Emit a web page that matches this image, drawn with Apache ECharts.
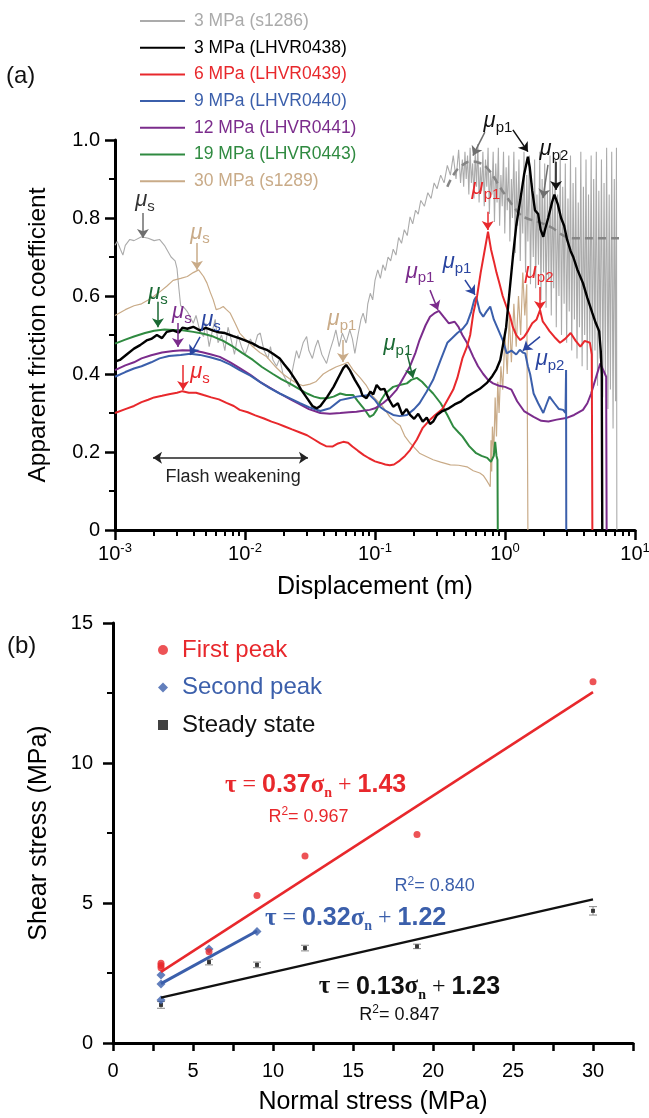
<!DOCTYPE html>
<html>
<head>
<meta charset="utf-8">
<script src="https://cdn.jsdelivr.net/npm/echarts@6/dist/echarts.min.js"></script>
<style>
html, body { margin: 0; padding: 0; background: #fff; }
#chart { width: 649px; height: 1118px; }
</style>
</head>
<body>
<div id="chart"></div>
<script>
// ---------- (a) apparent friction vs displacement: [displacement (m), friction] ----------
var s1286 = [[0.001,0.73],[0.00104,0.74],[0.0011,0.72],[0.00115,0.705],[0.0012,0.73],[0.0013,0.745],[0.0014,0.742],[0.0016,0.752],[0.0018,0.748],[0.002,0.742],[0.0022,0.745],[0.0024,0.73],[0.0027,0.70],[0.0029,0.69],[0.003,0.67],[0.0031,0.62],[0.0032,0.575],[0.0034,0.57],[0.0036,0.56],[0.0038,0.545],[0.004,0.53],[0.0042,0.55],[0.0045,0.51],[0.0048,0.496],[0.005,0.53],[0.0053,0.47],[0.0056,0.51],[0.0059,0.54],[0.0062,0.48],[0.0066,0.50],[0.007,0.46],[0.0074,0.52],[0.0078,0.49],[0.0083,0.45],[0.0088,0.5],[0.0094,0.47],[0.0100,0.45],[0.0103,0.46],[0.011,0.49],[0.0118,0.47],[0.0125,0.50],[0.0131,0.505],[0.014,0.46],[0.015,0.44],[0.0157,0.47],[0.0164,0.436],[0.0175,0.42],[0.0185,0.44],[0.0196,0.40],[0.021,0.38],[0.022,0.367],[0.0235,0.42],[0.0249,0.46],[0.026,0.44],[0.028,0.48],[0.0298,0.496],[0.031,0.46],[0.033,0.44],[0.0348,0.47],[0.0364,0.487],[0.039,0.45],[0.0424,0.427],[0.045,0.46],[0.048,0.49],[0.050,0.513],[0.053,0.47],[0.056,0.505],[0.060,0.48],[0.064,0.513],[0.067,0.49],[0.070,0.453],[0.074,0.50],[0.078,0.54],[0.081,0.556],[0.085,0.53],[0.088,0.58],[0.092,0.607],[0.096,0.59],[0.10,0.64],[0.105,0.667],[0.11,0.645],[0.115,0.68],[0.12,0.665],[0.126,0.70],[0.132,0.69],[0.138,0.72],[0.145,0.705],[0.152,0.75],[0.16,0.735],[0.168,0.77],[0.177,0.755],[0.186,0.803],[0.195,0.785],[0.205,0.82],[0.215,0.81],[0.225,0.845],[0.24,0.83],[0.255,0.865],[0.27,0.85],[0.285,0.89],[0.30,0.875],[0.32,0.91],[0.34,0.89],[0.36,0.935],[0.38,0.91],[0.40,0.96],[0.42,0.9],[0.44,0.975],[0.455,0.89],
  [0.470,0.95],[0.481,0.88],[0.492,0.97],[0.503,0.90],[0.515,0.96],[0.527,0.86],[0.539,0.98],[0.551,0.89],[0.564,0.94],[0.577,0.85],[0.590,0.97],[0.604,0.88],[0.618,0.99],[0.632,0.84],[0.646,0.93],[0.661,0.87],[0.676,0.97],[0.692,0.83],[0.708,0.95],[0.724,0.88],[0.741,0.98],[0.758,0.81],[0.775,0.92],[0.793,0.86],[0.811,0.97],[0.830,0.79],[0.849,0.94],[0.869,0.84],[0.889,0.98],[0.909,0.78],[0.930,0.91],[0.952,0.83],[0.974,0.97],[0.996,0.76],[1.02,0.93],[1.04,0.82],[1.07,0.96],[1.09,0.74],[1.12,0.90],[1.14,0.80],[1.17,0.97],[1.20,0.71],[1.22,0.92],[1.25,0.78],[1.28,0.95],[1.31,0.69],[1.34,0.88],[1.37,0.76],[1.40,0.97],[1.44,0.66],[1.47,0.91],[1.50,0.74],[1.54,0.96],[1.57,0.63],[1.61,0.89],[1.65,0.70],[1.69,0.95],[1.72,0.62],[1.76,0.86],[1.81,0.68],[1.85,0.97],[1.89,0.59],[1.93,0.90],[1.98,0.66],[2.02,0.94],[2.07,0.57],[2.12,0.87],[2.17,0.64],[2.22,0.96],[2.27,0.55],[2.32,0.89],[2.37,0.62],[2.43,0.95],[2.48,0.52],[2.54,0.86],[2.60,0.60],[2.66,0.97],[2.72,0.50],[2.78,0.88],[2.85,0.58],[2.91,0.94],[2.98,0.48],[3.05,0.85],[3.12,0.56],[3.19,0.96],[3.26,0.46],[3.34,0.89],[3.42,0.54],[3.50,0.93],[3.58,0.44],[3.66,0.84],[3.74,0.52],[3.83,0.97],[3.92,0.42],[4.01,0.88],[4.10,0.50],[4.20,0.95],[4.29,0.41],[4.39,0.86],[4.49,0.48],[4.60,0.96],[4.70,0.39],[4.81,0.90],[4.92,0.46],[5.04,0.97],[5.15,0.37],[5.27,0.87],[5.39,0.44],[5.52,0.95],[5.65,0.34],[5.78,0.89],[5.91,0.40],[6.05,0.98],[6.19,0.31],[6.33,0.86],[6.47,0.36],[6.62,0.97],[6.78,0.26],[6.93,0.90],[7.09,0.33],[7.20,0.98],[7.25,0.0]];

var s1286Trend = [[0.36,0.88],[0.40,0.91],[0.45,0.93],[0.55,0.945],[0.65,0.94],[0.72,0.93],[0.82,0.905],[0.91,0.88],[1.05,0.85],[1.16,0.83],[1.3,0.81],[1.45,0.80],[1.8,0.79],[2.3,0.775],[2.6,0.762],[2.95,0.752],[3.5,0.748],[5.0,0.748],[7.7,0.748]];

var lhvr0438 = [[0.00100,0.432],[0.00109,0.436],[0.00125,0.452],[0.00140,0.465],[0.00156,0.474],[0.00175,0.486],[0.0019,0.49],[0.0021,0.50],[0.0023,0.492],[0.0025,0.508],[0.0028,0.512],[0.0031,0.506],[0.0033,0.519],[0.0036,0.516],[0.0040,0.521],[0.0045,0.512],[0.0050,0.518],[0.0057,0.511],[0.0063,0.507],[0.0070,0.505],[0.0081,0.497],[0.0090,0.492],[0.0100,0.486],[0.0115,0.478],[0.0130,0.468],[0.0147,0.462],[0.0164,0.452],[0.0185,0.44],[0.020,0.425],[0.022,0.408],[0.025,0.38],[0.027,0.36],[0.030,0.338],[0.033,0.318],[0.0357,0.312],[0.038,0.318],[0.043,0.342],[0.048,0.367],[0.053,0.395],[0.057,0.415],[0.060,0.423],[0.064,0.41],[0.070,0.385],[0.077,0.362],[0.080,0.345],[0.086,0.338],[0.092,0.355],[0.097,0.348],[0.103,0.372],[0.110,0.36],[0.118,0.362],[0.128,0.335],[0.138,0.316],[0.150,0.325],[0.162,0.296],[0.175,0.31],[0.186,0.295],[0.20,0.285],[0.215,0.298],[0.233,0.278],[0.25,0.288],[0.265,0.272],[0.28,0.278],[0.30,0.295],[0.33,0.305],[0.37,0.312],[0.41,0.322],[0.46,0.33],[0.51,0.342],[0.57,0.352],[0.64,0.362],[0.73,0.378],[0.80,0.395],[0.86,0.412],[0.92,0.436],[0.96,0.47],[1.02,0.52],[1.09,0.62],[1.15,0.70],[1.22,0.78],[1.31,0.846],[1.40,0.91],[1.50,0.957],[1.55,0.93],[1.62,0.87],[1.70,0.82],[1.80,0.81],[1.88,0.77],[1.97,0.752],[2.05,0.775],[2.15,0.80],[2.30,0.84],[2.40,0.86],[2.55,0.835],[2.70,0.80],[2.85,0.78],[3.0,0.745],[3.2,0.715],[3.35,0.70],[3.6,0.668],[3.98,0.633],[4.3,0.595],[4.7,0.556],[5.0,0.53],[5.3,0.51],[5.45,0.46],[5.55,0.40],[5.6,0.0]];

var lhvr0439 = [[0.001,0.300],[0.0012,0.31],[0.0014,0.318],[0.0016,0.328],[0.0018,0.334],[0.002,0.34],[0.0023,0.344],[0.0026,0.348],[0.003,0.352],[0.0033,0.356],[0.0037,0.352],[0.0042,0.352],[0.0048,0.346],[0.0055,0.34],[0.0063,0.335],[0.0072,0.326],[0.0082,0.318],[0.0091,0.308],[0.0105,0.302],[0.012,0.294],[0.014,0.286],[0.016,0.278],[0.018,0.272],[0.020,0.266],[0.023,0.258],[0.0265,0.25],[0.030,0.243],[0.034,0.232],[0.038,0.222],[0.042,0.215],[0.047,0.214],[0.052,0.222],[0.057,0.226],[0.062,0.224],[0.067,0.214],[0.074,0.203],[0.082,0.192],[0.090,0.184],[0.10,0.176],[0.11,0.172],[0.12,0.168],[0.13,0.166],[0.14,0.168],[0.155,0.178],[0.17,0.19],[0.186,0.205],[0.21,0.232],[0.233,0.262],[0.26,0.28],[0.29,0.295],[0.33,0.31],[0.37,0.34],[0.40,0.36],[0.43,0.39],[0.47,0.44],[0.51,0.47],[0.54,0.50],[0.57,0.555],[0.61,0.60],[0.65,0.66],[0.70,0.72],[0.74,0.765],[0.78,0.72],[0.82,0.69],[0.86,0.66],[0.91,0.63],[0.96,0.60],[1.02,0.575],[1.09,0.55],[1.15,0.52],[1.22,0.50],[1.31,0.487],[1.4,0.495],[1.5,0.51],[1.62,0.53],[1.75,0.54],[1.86,0.564],[1.95,0.535],[2.05,0.525],[2.2,0.51],[2.4,0.495],[2.65,0.48],[2.9,0.49],[3.2,0.505],[3.5,0.485],[3.8,0.47],[4.1,0.485],[4.5,0.48],[4.65,0.45],[4.7,0.0]];

var lhvr0440 = [[0.001,0.393],[0.0012,0.405],[0.0014,0.414],[0.0016,0.42],[0.0019,0.43],[0.0022,0.44],[0.0026,0.446],[0.0032,0.449],[0.0038,0.452],[0.0045,0.449],[0.0054,0.443],[0.0064,0.436],[0.0077,0.424],[0.0091,0.41],[0.011,0.396],[0.013,0.38],[0.0155,0.364],[0.0185,0.35],[0.022,0.338],[0.0265,0.325],[0.031,0.315],[0.038,0.305],[0.045,0.312],[0.054,0.333],[0.063,0.338],[0.072,0.342],[0.081,0.344],[0.091,0.346],[0.10,0.333],[0.109,0.316],[0.12,0.306],[0.138,0.295],[0.155,0.292],[0.176,0.295],[0.20,0.31],[0.22,0.325],[0.25,0.355],[0.28,0.385],[0.32,0.436],[0.36,0.48],[0.40,0.495],[0.43,0.505],[0.47,0.515],[0.51,0.53],[0.55,0.56],[0.58,0.59],[0.60,0.598],[0.64,0.56],[0.68,0.547],[0.72,0.56],[0.77,0.573],[0.82,0.54],[0.87,0.52],[0.96,0.487],[1.03,0.453],[1.12,0.46],[1.22,0.45],[1.30,0.462],[1.37,0.455],[1.43,0.453],[1.5,0.42],[1.56,0.40],[1.66,0.35],[1.8,0.325],[1.97,0.30],[2.1,0.325],[2.2,0.342],[2.4,0.325],[2.6,0.31],[2.8,0.308],[2.92,0.30],[2.95,0.41],[2.96,0.0]];

var lhvr0441 = [[0.001,0.41],[0.0012,0.422],[0.0014,0.43],[0.0016,0.44],[0.0019,0.448],[0.0023,0.455],[0.0028,0.459],[0.0033,0.461],[0.004,0.46],[0.0047,0.456],[0.0055,0.45],[0.0064,0.444],[0.0077,0.43],[0.0091,0.415],[0.011,0.398],[0.013,0.38],[0.0155,0.365],[0.0185,0.35],[0.022,0.336],[0.0265,0.322],[0.031,0.31],[0.038,0.30],[0.045,0.298],[0.054,0.30],[0.063,0.302],[0.072,0.303],[0.081,0.306],[0.091,0.308],[0.10,0.312],[0.115,0.325],[0.13,0.34],[0.147,0.36],[0.165,0.39],[0.186,0.42],[0.205,0.455],[0.22,0.487],[0.245,0.525],[0.265,0.547],[0.29,0.557],[0.31,0.562],[0.34,0.545],[0.37,0.53],[0.41,0.534],[0.44,0.52],[0.47,0.50],[0.51,0.48],[0.57,0.444],[0.62,0.42],[0.68,0.40],[0.74,0.385],[0.81,0.376],[0.9,0.37],[1.0,0.367],[1.12,0.36],[1.24,0.33],[1.4,0.305],[1.66,0.29],[1.9,0.28],[2.16,0.278],[2.5,0.283],[2.95,0.287],[3.4,0.295],[3.98,0.308],[4.3,0.325],[4.6,0.35],[5.0,0.39],[5.4,0.427],[5.7,0.41],[6.0,0.393],[6.05,0.0]];

var lhvr0443 = [[0.001,0.478],[0.0012,0.488],[0.0014,0.496],[0.0017,0.505],[0.002,0.511],[0.0024,0.514],[0.0028,0.513],[0.0033,0.512],[0.004,0.508],[0.0048,0.503],[0.0057,0.496],[0.0068,0.485],[0.0081,0.47],[0.0095,0.454],[0.0115,0.436],[0.0135,0.418],[0.0164,0.40],[0.019,0.387],[0.022,0.376],[0.026,0.362],[0.030,0.35],[0.034,0.342],[0.038,0.338],[0.043,0.338],[0.048,0.342],[0.054,0.35],[0.060,0.346],[0.068,0.346],[0.074,0.33],[0.080,0.316],[0.086,0.302],[0.091,0.29],[0.097,0.295],[0.103,0.308],[0.11,0.33],[0.12,0.35],[0.138,0.367],[0.155,0.372],[0.176,0.376],[0.19,0.385],[0.21,0.39],[0.23,0.38],[0.25,0.367],[0.28,0.35],[0.32,0.325],[0.36,0.295],[0.40,0.265],[0.44,0.25],[0.47,0.24],[0.53,0.215],[0.60,0.197],[0.66,0.19],[0.73,0.185],[0.78,0.175],[0.82,0.19],[0.84,0.226],[0.86,0.19],[0.875,0.18],[0.88,0.0]];

var s1289 = [[0.001,0.55],[0.0012,0.565],[0.0014,0.575],[0.0016,0.58],[0.0018,0.59],[0.002,0.60],[0.0022,0.61],[0.0025,0.625],[0.0028,0.64],[0.0032,0.645],[0.0036,0.65],[0.004,0.66],[0.0044,0.667],[0.0048,0.65],[0.0051,0.633],[0.0054,0.61],[0.0057,0.59],[0.006,0.565],[0.0064,0.568],[0.0068,0.573],[0.0072,0.565],[0.0077,0.556],[0.0084,0.53],[0.0091,0.505],[0.010,0.49],[0.0115,0.47],[0.013,0.455],[0.0147,0.444],[0.017,0.42],[0.0196,0.40],[0.022,0.388],[0.025,0.376],[0.028,0.37],[0.0316,0.374],[0.035,0.38],[0.04,0.40],[0.045,0.41],[0.05,0.418],[0.057,0.425],[0.062,0.43],[0.068,0.41],[0.077,0.39],[0.086,0.37],[0.095,0.345],[0.103,0.333],[0.115,0.316],[0.13,0.29],[0.145,0.275],[0.156,0.268],[0.17,0.24],[0.186,0.223],[0.20,0.212],[0.22,0.197],[0.25,0.188],[0.28,0.18],[0.32,0.174],[0.38,0.167],[0.44,0.166],[0.51,0.162],[0.57,0.152],[0.64,0.146],[0.68,0.14],[0.72,0.128],[0.75,0.118],[0.77,0.111],[0.78,0.23],[0.79,0.15],[0.80,0.265],[0.82,0.2],[0.84,0.34],[0.86,0.24],[0.88,0.38],[0.90,0.3],[0.93,0.42],[0.96,0.36],[1.0,0.5],[1.04,0.4],[1.08,0.55],[1.12,0.43],[1.17,0.58],[1.22,0.47],[1.27,0.6],[1.32,0.5],[1.37,0.66],[1.42,0.55],[1.47,0.63],[1.5,0.0]];

var seriesNamesA = ['3 MPa (s1286)', '3 MPa (LHVR0438)', '6 MPa (LHVR0439)', '9 MPa (LHVR0440)', '12 MPa (LHVR0441)', '19 MPa (LHVR0443)', '30 MPa (s1289)'];
var minorTicksA = [0.002,0.003,0.004,0.005,0.006,0.007,0.008,0.009,0.02,0.03,0.04,0.05,0.06,0.07,0.08,0.09,0.2,0.3,0.4,0.5,0.6,0.7,0.8,0.9,2,3,4,5,6,7,8,9];

// ---------- (b) shear stress vs normal stress (MPa) ----------
var firstPeak = [[3,2.85],[3,2.77],[3,2.69],[6,3.26],[9,5.27],[12,6.68],[19,7.45],[30,12.9]];
var secondPeak = [[3,2.43],[3,2.11],[3,1.54],[6,3.36],[9,3.98]];
var steadyState = [[3,1.36],[6,2.89],[9,2.79],[12,3.39],[19,3.45],[30,4.72]];
var steadyErr = [0.12,0.1,0.1,0.1,0.08,0.15];
var firstFit = [[3,2.54],[30,12.53]];
var secondFit = [[3,2.12],[9,4.0]];
var steadyFit = [[3,1.62],[30,5.13]];
var xTicksB = [0,2.5,5,7.5,10,12.5,15,17.5,20,22.5,25,27.5,30,32.5];
var xLabelsB = [0,5,10,15,20,25,30];

var C = {
  gray: '#ababab', black: '#000000', red: '#e8282c', blue: '#3b5fab',
  purple: '#7b2c8c', green: '#2f8a40', tan: '#c9ab88', dgreen: '#1b6a34',
  dblue: '#2a45a0', dgray: '#6e6e6e'
};
var FONT = '"Liberation Sans", Arial, sans-serif';

// annotations of panel (a): [subscript, displacement, friction, colour]
var labelsA = [
  ['s', 0.0017, 0.846, '#333'], ['s', 0.0045, 0.762, C.tan], ['s', 0.00214, 0.608, C.dgreen],
  ['s', 0.00327, 0.559, C.purple], ['s', 0.00547, 0.538, C.dblue], ['s', 0.00451, 0.405, C.red],
  ['p1', 0.0557, 0.541, C.tan], ['p1', 0.150, 0.477, C.dgreen], ['p1', 0.222, 0.662, C.purple],
  ['p1', 0.428, 0.687, C.dblue], ['p1', 0.714, 0.877, C.red], ['p1', 0.883, 1.049, '#111'],
  ['p2', 2.38, 0.977, '#111'], ['p2', 1.83, 0.662, C.red], ['p2', 2.22, 0.438, C.dblue]
];
var arrowsA = [
  [0.00164, 0.813, 0.00164, 0.749, C.dgray], [0.00427, 0.736, 0.00427, 0.667, C.tan],
  [0.00214, 0.585, 0.00214, 0.52, C.dgreen], [0.00305, 0.531, 0.00305, 0.469, C.purple],
  [0.00451, 0.495, 0.00378, 0.449, C.dblue], [0.00334, 0.423, 0.00334, 0.359, C.red],
  [0.0567, 0.487, 0.0567, 0.431, C.tan], [0.176, 0.454, 0.196, 0.39, C.dgreen],
  [0.265, 0.615, 0.305, 0.564, C.purple], [0.492, 0.641, 0.588, 0.603, C.dblue],
  [0.736, 0.816, 0.736, 0.769, C.red], [1.15, 1.026, 1.50, 0.97, '#111'],
  [0.70, 1.02, 0.567, 0.96, C.dgray], [2.47, 0.944, 2.47, 0.872, '#111'],
  [2.14, 0.936, 1.96, 0.851, C.dgray], [1.86, 0.623, 1.86, 0.564, C.red],
  [1.86, 0.496, 1.37, 0.46, C.dblue]
];

var chart = echarts.init(document.getElementById('chart'), null, { renderer: 'canvas' });

function curve(name, data, color, width) {
  return {
    name: name, type: 'line', xAxisIndex: 0, yAxisIndex: 0, data: data,
    symbol: 'none', showSymbol: false, silent: true, clip: true,
    lineStyle: { color: color, width: width }, itemStyle: { color: color }
  };
}

var axisBlack = { onZero: false, lineStyle: { color: '#000', width: 3 } };
var muRich = {
  m: { fontSize: 22, fontStyle: 'italic', fontFamily: FONT, lineHeight: 28, verticalAlign: 'middle' },
  s: { fontSize: 15, fontFamily: FONT, lineHeight: 12, verticalAlign: 'bottom' }
};
var eqRich = {
  t: { fontFamily: '"Liberation Serif", serif', fontWeight: 'bold', fontSize: 25, lineHeight: 30 },
  e: { fontFamily: '"Liberation Serif", serif', fontSize: 24, lineHeight: 30 },
  n: { fontFamily: '"Liberation Sans Narrow", ' + FONT, fontWeight: 'bold', fontSize: 25, lineHeight: 30 },
  sub: { fontFamily: '"Liberation Serif", serif', fontWeight: 'bold', fontSize: 14, lineHeight: 10, verticalAlign: 'bottom' },
  r: { fontFamily: FONT, fontSize: 18, lineHeight: 22 },
  sup: { fontFamily: FONT, fontSize: 12, lineHeight: 12, verticalAlign: 'top' }
};
function eqLabel(coord, text, color) {
  return { coord: coord, label: { formatter: text, color: color } };
}

var option = {
  animation: false,
  backgroundColor: '#fff',
  textStyle: { fontFamily: FONT },
  grid: [
    { left: 115, right: 14, top: 140, bottom: 588, outerBoundsMode: 'none' },
    { left: 113, right: 16, top: 623, bottom: 75, outerBoundsMode: 'none' },
    { left: 115, right: 14, top: 62, bottom: 588, outerBoundsMode: 'none' }
  ],
  legend: [{
    orient: 'vertical', left: 135, top: 7, itemWidth: 45, itemHeight: 2, itemGap: 8.7,
    icon: 'rect', selectedMode: false,
    textStyle: { fontSize: 17.5, lineHeight: 18, padding: [0, 0, 0, 4] },
    data: seriesNamesA.map(function (n, i) {
      var cols = [C.gray, C.black, C.red, C.blue, C.purple, C.green, C.tan];
      return { name: n, textStyle: { color: cols[i] } };
    })
  }, {
    orient: 'vertical', left: 153, top: 633, itemWidth: 10, itemHeight: 10, itemGap: 13.5,
    selectedMode: false,
    textStyle: { fontSize: 24, lineHeight: 24, padding: [0, 0, 0, 9] },
    data: [
      { name: 'First peak', icon: 'circle', textStyle: { color: C.red } },
      { name: 'Second peak', icon: 'diamond', textStyle: { color: C.blue } },
      { name: 'Steady state', icon: 'rect', textStyle: { color: '#111' } }
    ]
  }],
  xAxis: [{
    type: 'log', logBase: 10, gridIndex: 0, min: 0.001, max: 10,
    axisLine: axisBlack,
    axisTick: { length: 10, lineStyle: { color: '#000', width: 2.5 } },
    splitLine: { show: false },
    axisLabel: {
      margin: 12, color: '#000',
      formatter: function (v) { return '{b|10}{e|' + Math.round(Math.log(v) / Math.LN10) + '}'; },
      rich: {
        b: { fontSize: 20, fontFamily: FONT, lineHeight: 24, verticalAlign: 'middle' },
        e: { fontSize: 13, fontFamily: FONT, lineHeight: 12, verticalAlign: 'top' }
      }
    },
    name: 'Displacement (m)', nameLocation: 'middle', nameGap: 45,
    nameTextStyle: { fontSize: 25, color: '#000' }
  }, {
    // minor ticks of the log axis, drawn on a linear axis in decades
    type: 'value', gridIndex: 0, min: -3, max: 1, position: 'bottom',
    axisLine: { show: false, onZero: false }, axisLabel: { show: false }, splitLine: { show: false },
    axisTick: { show: true, customValues: minorTicksA.map(function (v) { return Math.log(v) / Math.LN10; }),
      length: 6, lineStyle: { color: '#000', width: 2 } }
  }, {
    type: 'value', gridIndex: 1, min: 0, max: 32.5,
    axisLine: axisBlack,
    axisTick: { customValues: xTicksB, length: 8, lineStyle: { color: '#000', width: 2.5 } },
    axisLabel: { customValues: xLabelsB, margin: 18, fontSize: 20, color: '#000' },
    splitLine: { show: false },
    name: 'Normal stress (MPa)', nameLocation: 'middle', nameGap: 47,
    nameTextStyle: { fontSize: 25, color: '#000' }
  }, {
    type: 'log', logBase: 10, gridIndex: 2, min: 0.001, max: 10, show: false
  }],
  yAxis: [{
    type: 'value', gridIndex: 0, min: 0, max: 1, interval: 0.2,
    axisLine: { show: true, onZero: false, lineStyle: { color: '#000', width: 3 } },
    axisTick: { length: 10, lineStyle: { color: '#000', width: 2.5 } },
    minorTick: { show: true, splitNumber: 2, length: 6, lineStyle: { color: '#000', width: 2 } },
    splitLine: { show: false },
    axisLabel: { margin: 15, fontSize: 20, color: '#000',
      formatter: function (v) { return v === 0 ? '0' : v.toFixed(1); } },
    name: 'Apparent friction coefficient', nameLocation: 'middle', nameGap: 64,
    nameTextStyle: { fontSize: 24.5, color: '#000' }
  }, {
    type: 'value', gridIndex: 1, min: 0, max: 15, interval: 5,
    axisLine: { show: true, onZero: false, lineStyle: { color: '#000', width: 3 } },
    axisTick: { length: 10, lineStyle: { color: '#000', width: 2.5 } },
    minorTick: { show: true, splitNumber: 2, length: 6, lineStyle: { color: '#000', width: 2 } },
    splitLine: { show: false },
    axisLabel: { margin: 20, fontSize: 20, color: '#000' },
    name: 'Shear stress (MPa)', nameLocation: 'middle', nameGap: 61,
    nameTextStyle: { fontSize: 25, color: '#000' }
  }, {
    type: 'value', gridIndex: 2, min: 0, max: 1.2, show: false
  }],
  graphic: [
    { type: 'text', left: 6, top: 64, style: { text: '(a)', fontSize: 24, fill: '#111', fontFamily: FONT } },
    { type: 'text', left: 7, top: 634, style: { text: '(b)', fontSize: 24, fill: '#111', fontFamily: FONT } }
  ],
  series: [
    curve(seriesNamesA[0], s1286, C.gray, 1.1),
    {
      name: 'trend', type: 'line', xAxisIndex: 0, yAxisIndex: 0, data: s1286Trend, smooth: true,
      symbol: 'none', silent: true,
      lineStyle: { color: '#858585', width: 2.5, type: [8, 5] }
    },
    curve(seriesNamesA[6], s1289, C.tan, 1.2),
    curve(seriesNamesA[5], lhvr0443, C.green, 2),
    curve(seriesNamesA[4], lhvr0441, C.purple, 2),
    curve(seriesNamesA[3], lhvr0440, C.blue, 2),
    curve(seriesNamesA[2], lhvr0439, C.red, 2),
    curve(seriesNamesA[1], lhvr0438, C.black, 2.4),
    {
      name: 'notes', type: 'line', xAxisIndex: 3, yAxisIndex: 2, data: [], silent: true,
      markLine: {
        silent: true, symbol: ['none', 'arrow'], symbolSize: 9, animation: false,
        label: { show: false },
        data: arrowsA.map(function (a) {
          return [{ coord: [a[0], a[1]], lineStyle: { color: a[4], width: 1.5, type: 'solid' }, itemStyle: { color: a[4] } },
                  { coord: [a[2], a[3]] }];
        }).concat([[
          { coord: [0.00196, 0.185], symbol: 'arrow', lineStyle: { color: '#222', width: 1.5, type: 'solid' }, itemStyle: { color: '#222' } },
          { coord: [0.0305, 0.185], symbol: 'arrow' }
        ]])
      },
      markPoint: {
        silent: true, symbol: 'circle', symbolSize: 1, itemStyle: { color: 'rgba(0,0,0,0)' },
        label: { show: true, position: 'inside', rich: muRich },
        data: labelsA.map(function (l) {
          return { coord: [l[1], l[2]], label: { formatter: '{m|\u03bc}{s|' + l[0] + '}', color: l[3] } };
        }).concat([{ coord: [0.0081, 0.136], label: { formatter: 'Flash weakening', fontSize: 18, color: '#222' } }])
      }
    },
    // panel (b)
    {
      name: 'firstFit', type: 'line', xAxisIndex: 2, yAxisIndex: 1, data: firstFit, symbol: 'none', silent: true,
      lineStyle: { color: C.red, width: 2.5 },
      markPoint: {
        silent: true, symbol: 'circle', symbolSize: 1, itemStyle: { color: 'rgba(0,0,0,0)' },
        label: { show: true, position: 'inside', rich: eqRich },
        data: [
          eqLabel([12.66, 9.21], '{t|\u03c4}{e| = }{n|0.37}{t|\u03c3}{sub|n}{e| + }{n|1.43}', C.red),
          eqLabel([12.22, 8.07], '{r|R}{sup|2}{r|= 0.967}', C.red)
        ]
      }
    },
    {
      name: 'secondFit', type: 'line', xAxisIndex: 2, yAxisIndex: 1, data: secondFit, symbol: 'none', silent: true,
      lineStyle: { color: C.blue, width: 3 },
      markPoint: {
        silent: true, symbol: 'circle', symbolSize: 1, itemStyle: { color: 'rgba(0,0,0,0)' },
        label: { show: true, position: 'inside', rich: eqRich },
        data: [
          eqLabel([15.16, 4.46], '{t|\u03c4}{e| = }{n|0.32}{t|\u03c3}{sub|n}{e| + }{n|1.22}', C.blue),
          eqLabel([20.1, 5.59], '{r|R}{sup|2}{r|= 0.840}', C.blue)
        ]
      }
    },
    {
      name: 'steadyFit', type: 'line', xAxisIndex: 2, yAxisIndex: 1, data: steadyFit, symbol: 'none', silent: true,
      lineStyle: { color: '#111', width: 2.5 },
      markPoint: {
        silent: true, symbol: 'circle', symbolSize: 1, itemStyle: { color: 'rgba(0,0,0,0)' },
        label: { show: true, position: 'inside', rich: eqRich },
        data: [
          eqLabel([18.53, 2.0], '{t|\u03c4}{e| = }{n|0.13}{t|\u03c3}{sub|n}{e| + }{n|1.23}', '#111'),
          eqLabel([17.9, 1.0], '{r|R}{sup|2}{r|= 0.847}', '#111')
        ]
      }
    },
    {
      name: 'errbar', type: 'custom', xAxisIndex: 2, yAxisIndex: 1, silent: true,
      data: steadyState.map(function (p, i) { return [p[0], p[1] - steadyErr[i], p[1] + steadyErr[i]]; }),
      encode: { x: 0, y: [1, 2] },
      renderItem: function (params, api) {
        var hi = api.coord([api.value(0), api.value(2)]);
        var lo = api.coord([api.value(0), api.value(1)]);
        var w = 4, st = { stroke: '#888', lineWidth: 1 };
        return { type: 'group', children: [
          { type: 'line', shape: { x1: hi[0], y1: hi[1], x2: lo[0], y2: lo[1] }, style: st },
          { type: 'line', shape: { x1: hi[0] - w, y1: hi[1], x2: hi[0] + w, y2: hi[1] }, style: st },
          { type: 'line', shape: { x1: lo[0] - w, y1: lo[1], x2: lo[0] + w, y2: lo[1] }, style: st }
        ] };
      }
    },
    { name: 'Steady state', type: 'scatter', xAxisIndex: 2, yAxisIndex: 1, data: steadyState,
      symbol: 'rect', symbolSize: 4, itemStyle: { color: '#111' }, silent: true },
    { name: 'Second peak', type: 'scatter', xAxisIndex: 2, yAxisIndex: 1, data: secondPeak,
      symbol: 'diamond', symbolSize: 9, itemStyle: { color: C.blue }, silent: true },
    { name: 'First peak', type: 'scatter', xAxisIndex: 2, yAxisIndex: 1, data: firstPeak,
      symbol: 'circle', symbolSize: 7, itemStyle: { color: C.red }, silent: true }
  ]
};

chart.setOption(option);
</script>
</body>
</html>
